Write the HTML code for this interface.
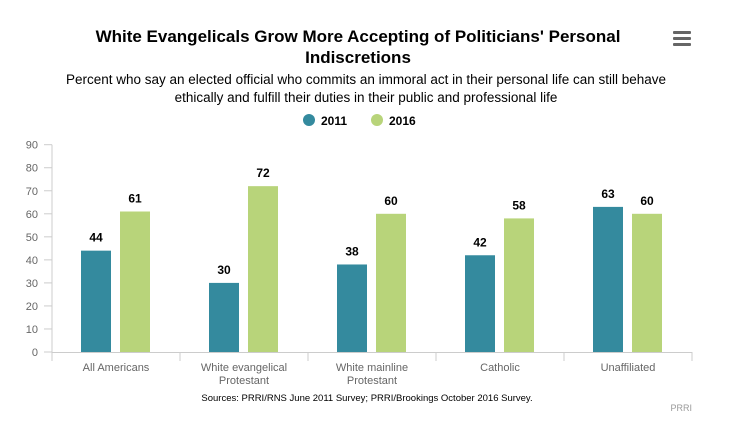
<!DOCTYPE html>
<html><head><meta charset="utf-8"><style>
body{margin:0;background:#fff;width:735px;height:417px;overflow:hidden;font-family:"Liberation Sans",Arial,sans-serif}
</style></head><body>
<svg width="735" height="417" font-family="Liberation Sans, Arial, sans-serif">
<text x="358" y="42" text-anchor="middle" font-size="17" font-weight="bold" fill="#000">White Evangelicals Grow More Accepting of Politicians' Personal</text>
<text x="358" y="63" text-anchor="middle" font-size="17" font-weight="bold" fill="#000">Indiscretions</text>
<text x="366" y="84" text-anchor="middle" font-size="13.5" fill="#000">Percent who say an elected official who commits an immoral act in their personal life can still behave</text>
<text x="366" y="102" text-anchor="middle" font-size="13.5" fill="#000">ethically and fulfill their duties in their public and professional life</text>
<g><rect x="673" y="31" width="18" height="3" rx="1" fill="#666"/><rect x="673" y="37" width="18" height="3" rx="1" fill="#666"/><rect x="673" y="43" width="18" height="3" rx="1" fill="#666"/></g>
<g>
<g><circle cx="309" cy="120" r="6" fill="#348a9e"/><text x="321" y="125" font-size="12" font-weight="bold">2011</text></g>
<g><circle cx="377" cy="120" r="6" fill="#b8d47a"/><text x="389" y="125" font-size="12" font-weight="bold">2016</text></g>
</g>
<g id="plot"></g>
<text x="367" y="401" text-anchor="middle" font-size="9.5" fill="#000">Sources: PRRI/RNS June 2011 Survey; PRRI/Brookings October 2016 Survey.</text>
<text x="692" y="411" text-anchor="end" font-size="9" fill="#999">PRRI</text>
</svg>
<script>
const categories=[["All Americans"],["White evangelical","Protestant"],["White mainline","Protestant"],["Catholic"],["Unaffiliated"]];
const values2011=[44,30,38,42,63];
const values2016=[61,72,60,58,60];
const yTicks=[0,10,20,30,40,50,60,70,80,90];
const NS="http://www.w3.org/2000/svg";
const g=document.getElementById('plot');
const x0=52,x1=692,y0=352,yTop=144.7,ymax=90;
const y=v=>y0-(v/ymax)*(y0-yTop);
const cw=(x1-x0)/categories.length;
function mk(t,a,txt){const e=document.createElementNS(NS,t);for(const k in a)e.setAttribute(k,a[k]);if(txt!=null)e.textContent=txt;g.appendChild(e);return e;}
let ax=mk('line',{x1:x0,y1:yTop,x2:x0,y2:y0,stroke:'#ccc'});


yTicks.forEach(t=>{
 const tk=mk('line',{x1:x0-8,x2:x0,y1:y(t),y2:y(t),stroke:'#ccc'});
 
 
 const l=mk('text',{x:x0-14,y:y(t)+4,'text-anchor':'end','font-size':11,fill:'#666'},t);
 
 
});
let xa=mk('line',{x1:x0,y1:y0+0.5,x2:x1,y2:y0+0.5,stroke:'#ccc'});


for(let i=0;i<=categories.length;i++){
 const s=mk('line',{x1:x0+i*cw,x2:x0+i*cw,y1:y0,y2:y0+9,stroke:'#ccc'});
 
 
}
const bw=30;
categories.forEach((c,i)=>{
 const cx=x0+i*cw+cw/2;
 [[values2011,'#348a9e',-cw/2+29,'2011'],[values2016,'#b8d47a',-cw/2+68,'2016']].forEach(([arr,col,off,sn])=>{
  const v=arr[i],bx=cx+off;
  const r=mk('rect',{x:bx,y:y(v),width:bw,height:y0-y(v),fill:col});
  
  
  const t=mk('text',{x:bx+bw/2,y:y(v)-9,'text-anchor':'middle','font-size':12,'font-weight':'bold',fill:'#000'},v);
  
  
 });
 c.forEach((ln,j)=>{
  const t=mk('text',{x:cx,y:371+j*13,'text-anchor':'middle','font-size':11,fill:'#666'},ln);
  
  
 });
});
</script>
</body></html>
